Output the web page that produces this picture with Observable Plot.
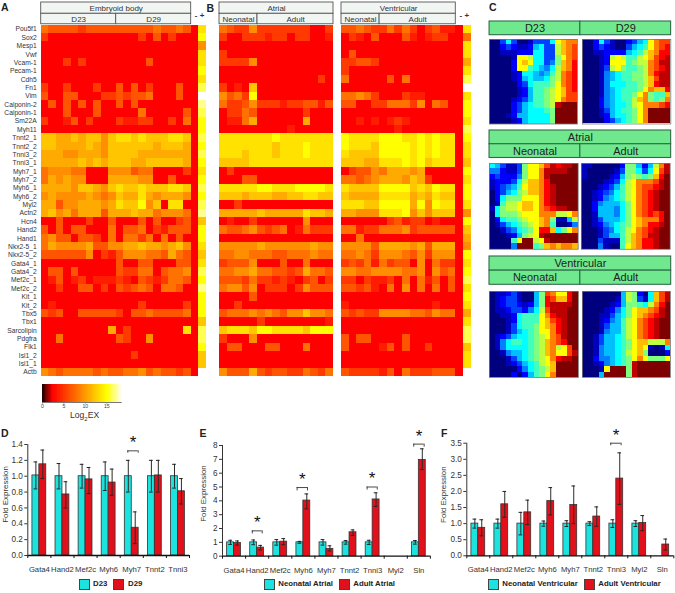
<!DOCTYPE html>
<html><head><meta charset="utf-8">
<script src="https://cdn.jsdelivr.net/npm/d3@7"></script>
<script src="https://cdn.jsdelivr.net/npm/@observablehq/plot@0.6"></script>
<style>
html,body{margin:0;padding:0;background:#fff}
#root{position:relative;width:675px;height:593px;overflow:hidden;font-family:"Liberation Sans",Arial,sans-serif}
#root svg{position:absolute;overflow:visible;background:none;max-width:none}
.t{position:absolute;white-space:nowrap;line-height:1}
.sw{position:absolute;box-sizing:border-box;border:1px solid #444}
</style></head><body><div id="root"></div>
<script>
const rowLabels=["Pou5f1","Sox2","Mesp1","Vwf","Vcam-1","Pecam-1","Cdh5","Fn1","Vim","Calponin-2","Calponin-1","Sm22A","Myh11","Tnnt2_1","Tnnt2_2","Tnni3_2","Tnni3_1","Myh7_1","Myh7_2","Myh6_1","Myh6_2","Myl2","Actn2","Hcn4","Hand2","Hand1","Nkx2-5_1","Nkx2-5_2","Gata4_1","Gata4_2","Mef2c_1","Mef2c_2","Kit_1","Kit_2","Tbx5","Tbx1","Sarcolipin","Pdgfra","Flk1","Isl1_2","Isl1_1","Actb"];
// heat levels, one hex digit per sample (20 samples, then "-" and "+")
const embryoidBody=[
"4333323333333334334308","2000000000000203020009","0000000000000000000005","0000000000000000000008",
"0002020000000030000008","0000000000000000000009","0000000000000000000008","200200020030302000300a",
"300330002232334000300c","030303030030300000000b","000300030000040000030a","2001302000211220020409",
"0000000000000000000009","776676775788787778870a","7766667657777776777609","666556665777766666660a",
"6666676767776677777609","4555440005553440000208","4656550006666550030009","666657765787787778870a",
"5655556545766865666509","663556665687795708800a","675646663666766455540b","0030002003000303002307",
"3030330004033402133309","4533033204044240403009","4655556335566766567508","3333335021355544364307",
"0000000000300330003308","033030000032244034450a","0130120111210321244309","002003302032343044300b",
"0000000000000000000009","0100000000000200000209","3230033333203343333409","0000000000000000000007",
"000000000602000000080a","004000000032005000000a","0000000000000000000009","0000000000002000000007",
"0000000000000000000007","543444434334453433230c"];
const atrial=[
"432252222222002","200222122022001","000000000000000","200000000000000","222250000000000","000000000000000",
"000000000000020","201070000000000","534290000000000","422352221223313","022430000002000","011460000006000",
"000000000100000","888888898888888","888888878889888","888788878889888","777788888888888","020000000000000",
"000330000000000","888889988899998","777677766778877","002000000000000","666667666668776","010020000005000",
"433453234014222","000000000000000","555556555555655","445544433444544","233350003004000","445564433236443",
"333242212102302","455350222025333","000030000000000","002000000000000","344454543557554","000002000000001",
"788879988887999","200050000000000","033000330004000","000000000000000","000000000000000","533363233224324"];
const ventricular=[
"33432242420231108","02103000310122004","00000000000000008","03000000000000008","22332000000000006","20000000000000008",
"4000003040000000a","0000000000000000c","44542000211000008","33002244425043009","00000000000000009","00101012100000008",
"0000000100000000a","98888999889898809","98887999989898808","87777999989898808","77766888989788807","02335466656000009",
"44345666576200008","87777999978798809","76666888867687709","88877999969598808","66555888957577705","00000023122010009",
"44122444523333307","00400000000000006","55553666656366605","44542555435255509","23241423305042208","55445555445053409",
"2202112040413030a","33231040504040308","00000000000000009","10000000000010008","32322555544354406","00000000000000008",
"0000000000000000a","3033000030000000a","30000130300200007","00000000000000008","00000000000000008","3222213042223330c"];
const somD23=["003630013336abcc","0023211256339bcd","0011122266339bcd","00001aa966338acd","00002aba66348bce","00002aa765469bce","0000126654579cde","0000125655689cde","000002367778acde","000001257789abde","000001257789abdd","000012357789acdd","000023567789fggg","000023566678gggg","000125566668gggg","000012566668gggg"];
const somD29=["002631002356acdd","002321003567acde","001122225679bcee","000129a9779abdef","00012aaa7899cdff","000139a87789cdef","000145677889ceff","000145677889bdff","000146667789beff","00014567778acbbe","0001456778ac877b","0002456779bc878c","0002456679acccde","0001356778acgggg","0001256678acgggg","0000235678acgggg"];
const somAtrialNeonatal=["6531138aabdfeffg","4421138aacffffgg","2322248aacfggggg","1222369bbceggggg","123457abbcefgggg","0235689bbcefgggg","026888aaacefgggg","01799abbacefgggg","16899abbacdeffgg","068889aaaccc99ac","0267789aabc81159","01356789abc70014","00134678aeeb68ac","00012589afgggggg","00007agg9afggggg","00004ggg78bcbccb"];
const somAtrialAdult=["11000002885259cf","1000001388636adf","1000012589878beg","000012369acccdfg","000123579acddefg","001234679acdefgg","001245679acdefgg","002455568acdefgg","002555468acdefgg","001555468acdedeg","001355568abccceg","001245678abceefg","000134679acdefgg","000135579bcdffgg","000311179bceefgg","00041007abceefgg"];
const somVentNeonatal=["0112310058dcaaeg","0123310058edbbeg","0123321258effffg","0112332469dfffgg","001126777aceffgg","000126777abdefgg","000136778abcefgg","000135678aacefgg","0123566789acdfgg","0146776789bcdegg","0146666789bc9adg","0014556789bcaadf","0001356789aceffg","0001235679abgggg","00000246789bgggg","0000202578acgggg"];
const somVentAdult=["0000000598206bdf","0000001598316bdf","0000012588769ceg","000012468abbcdfg","000113568abcdefg","000124579acdefgg","000135579acdefgg","000145579acdefgg","001355679acdefgg","001355678abb999c","001455678aba1016","001455679ab80002","002445678aca888a","001245678fgggggg","0001aggg8fgggggg","0005gggg8fgggggg"];

const genesD=["Gata4","Hand2","Mef2c","Myh6","Myh7","Tnnt2","Tnni3"];
const d23=[1.01,1,1,1,1,1,1], d23Lo=[.84,.84,.85,.82,.8,.8,.85], d23Hi=[1.18,1.16,1.15,1.18,1.2,1.2,1.15];
const d29=[1.15,.77,.96,.92,.35,1.01,.81], d29Lo=[.97,.6,.78,.76,.15,.8,.65], d29Hi=[1.33,.93,1.11,1.09,.55,1.2,.97];
const genesE=["Gata4","Hand2","Mef2c","Myh6","Myh7","Tnnt2","Tnni3","Myl2","Sln"];
const neoA=[1,1,1,1,1,1,1,null,1], neoALo=[.85,.83,.8,.93,.8,.87,.85,null,.87], neoAHi=[1.15,1.17,1.2,1.07,1.2,1.13,1.15,null,1.13];
const adA=[.95,.62,1.05,4.02,.53,1.73,4.1,null,6.96], adALo=[.8,.45,.83,3.42,.38,1.5,3.6,null,6.26], adAHi=[1.1,.78,1.27,4.5,.75,1.9,4.58,null,7.76];
const genesF=["Gata4","Hand2","Mef2c","Myh6","Myh7","Tnnt2","Tnni3","Myl2","Sln"];
const neoV=[1,1,1,1,1,1,1,1,null], neoVLo=[.86,.86,.65,.92,.91,.94,.88,.91,null], neoVHi=[1.14,1.14,1.35,1.08,1.09,1.06,1.12,1.09,null];
const adV=[.87,1.6,1.35,1.7,1.58,1.22,2.4,1.02,.35], adVLo=[.62,1.2,.97,1.27,1,.92,1.6,.78,.18], adVHi=[1.12,2,1.73,2.12,2.17,1.52,3.2,1.25,.52];
const sigD=[{g:4,lo:1.29,hi:1.32,span:[.33,.78]}];
const sigE=[{g:1,lo:1.61,hi:1.83,span:[.29,.72]},{g:3,lo:4.72,hi:4.96,span:[.23,.68]},{g:6,lo:4.78,hi:5,span:[.26,.7]},{g:8,lo:7.88,hi:8.1,span:[.28,.73]}];
const sigF=[{g:6,lo:3.42,hi:3.5,span:[.26,.71]}];

const root=document.getElementById("root");
const FONT='"Liberation Sans",Arial,sans-serif';
function place(p,left,top){p.style.left=left+"px";p.style.top=top+"px";p.style.fontFamily=FONT;root.append(p);return p}
function label(html,left,top,css){const e=document.createElement("div");e.className="t";e.innerHTML=html;e.style.cssText=`left:${left}px;top:${top}px;${css}`;root.append(e);return e}
function swatch(left,top,c){const e=document.createElement("div");e.className="sw";e.style.cssText=`left:${left}px;top:${top}px;width:10.5px;height:10.5px;background:${c}`;root.append(e)}

const heatColor={type:"linear",domain:[0,2.3,15,18.6],range:["#200000","#ff0000","#ffff00","#ffffff"],interpolate:"rgb"};
const lev=c=>{const n=parseInt(c,16);return n<=9?2.3+1.41*n:[16.1,17,18.6][n-10]};
const toCells=rows=>rows.flatMap((s,row)=>Array.from(s,(c,col)=>({col,row,v:lev(c)})));
const headerFill="#f1f6f3";
function heatmap(rows,n,opt){
  const spans=opt.spans;
  return Plot.plot({
    width:opt.left+n*opt.cw+1,height:377,marginLeft:opt.left,marginRight:1,marginTop:2,marginBottom:1,
    style:{background:"none",fontFamily:FONT},
    x:{domain:[0,n],axis:null},y:{domain:[-2.7,42],reverse:true,axis:null},color:heatColor,
    marks:[
      Plot.rect(toCells(rows),{x1:"col",x2:d=>d.col+1,y1:"row",y2:d=>d.row+1,fill:"v",shapeRendering:"crispEdges",imageFilter:"blur(0.45px)"}),
      Plot.rect(spans,{x1:"x1",x2:"x2",y1:"y1",y2:"y2",fill:headerFill,stroke:"#555",strokeWidth:.9}),
      Plot.text(spans,{x:d=>(d.x1+d.x2)/2,y:d=>(d.y1+d.y2)/2,text:"t",fontSize:8,fill:"#333"}),
      ...(opt.labels?[Plot.text(rowLabels,{x:0,y:(d,i)=>i+.5,text:d=>d,textAnchor:"end",dx:-4.5,fontSize:6.7,fill:"#333"})]:[]),
      ...(opt.signs?[Plot.text(["-","+"],{x:(d,i)=>n-1.35+i*.8,y:-1.2,text:d=>d,fontSize:8,fontWeight:"bold",fill:"#333"})]:[])
    ]});
}
place(heatmap(embryoidBody,22,{left:40.7,cw:7.5,labels:true,signs:true,spans:[
 {t:"Embryoid body",x1:0,x2:20,y1:-2.7,y2:-1.35},{t:"D23",x1:0,x2:10,y1:-1.35,y2:-.1},{t:"D29",x1:10,x2:20,y1:-1.35,y2:-.1}]}),0,0);
place(heatmap(atrial,15,{left:4,cw:7.6,spans:[
 {t:"Atrial",x1:0,x2:15,y1:-2.7,y2:-1.35},{t:"Neonatal",x1:0,x2:5,y1:-1.35,y2:-.1},{t:"Adult",x1:5,x2:15,y1:-1.35,y2:-.1}]}),215.3,0);
place(heatmap(ventricular,17,{left:4,cw:7.62,signs:true,spans:[
 {t:"Ventricular",x1:0,x2:15,y1:-2.7,y2:-1.35},{t:"Neonatal",x1:0,x2:5,y1:-1.35,y2:-.1},{t:"Adult",x1:5,x2:15,y1:-1.35,y2:-.1}]}),336.7,0);

// colour bar
const barStops=d3.range(0,18.6,.2);
place(Plot.plot({width:90,height:26,marginLeft:5,marginRight:5.3,marginTop:0,marginBottom:8,style:{background:"none",fontFamily:FONT},
  x:{domain:[0,18.6],axis:null},y:{domain:[0,1],axis:null},color:heatColor,
  marks:[Plot.rect(barStops,{x1:d=>d,x2:d=>d+.2,y1:0,y2:1,fill:d=>d,shapeRendering:"crispEdges"}),
    Plot.ruleY([0],{stroke:"#777",strokeWidth:1}),
    Plot.axisX({anchor:"bottom",ticks:[0,5,10,15],tickSize:1.5,tickPadding:0.5,fontSize:5.2,stroke:"#777",fill:"#444"})]}),37,384);
label("Log<sub style='font-size:6px;line-height:0'>2</sub>EX",70,411,"font-size:8.6px;color:#333");

// SOM maps
const jet={type:"linear",domain:[0,1,2,3,4,5,6,7,8],range:["#00007f","#0000ff","#007fff","#00ffff","#7fff7f","#ffff00","#ff7f00","#ff0000","#7f0000"],interpolate:"rgb"};
function som(rows,left,top,w,h){
  const cells=rows.flatMap((s,r)=>Array.from(s,(c,k)=>({k,r,v:parseInt(c,17)/2})));
  place(Plot.plot({width:w,height:h,margin:0,style:{background:"none"},x:{domain:[0,16],axis:null},y:{domain:[0,16],reverse:true,axis:null},color:jet,
    marks:[Plot.rect(cells,{x1:"k",x2:d=>d.k+1,y1:"r",y2:d=>d.r+1,fill:"v",shapeRendering:"crispEdges",imageFilter:"blur(0.7px)"}),Plot.frame({stroke:"#777",strokeWidth:.8})]}),left,top);
}
som(somD23,489,38.5,88,84.5); som(somD29,581.7,38.5,88.3,84.5);
som(somAtrialNeonatal,489,162.5,88.7,85.8); som(somAtrialAdult,581.3,162.5,88.7,85.8);
som(somVentNeonatal,489,290.7,89,86); som(somVentAdult,582.3,290.7,88,86);
function greenHead(top,h,rowsN,spans){
  place(Plot.plot({width:181.7,height:h,margin:0,style:{background:"none",fontFamily:FONT},x:{domain:[0,2],axis:null},y:{domain:[0,rowsN],reverse:true,axis:null},
   marks:[Plot.rect(spans,{x1:"x1",x2:"x2",y1:"y1",y2:"y2",fill:"#70e88e",stroke:"#2f6b4a",strokeWidth:1.1}),
          Plot.text(spans,{x:d=>(d.x1+d.x2)/2,y:d=>(d.y1+d.y2)/2,text:"t",fontSize:11,fill:"#222"})]}),489,top);
}
greenHead(21,13.7,1,[{t:"D23",x1:0,x2:1,y1:0,y2:1},{t:"D29",x1:1,x2:2,y1:0,y2:1}]);
greenHead(130,27.5,2,[{t:"Atrial",x1:0,x2:2,y1:0,y2:1},{t:"Neonatal",x1:0,x2:1,y1:1,y2:2},{t:"Adult",x1:1,x2:2,y1:1,y2:2}]);
greenHead(256,28.3,2,[{t:"Ventricular",x1:0,x2:2,y1:0,y2:1},{t:"Neonatal",x1:0,x2:1,y1:1,y2:2},{t:"Adult",x1:1,x2:2,y1:1,y2:2}]);

// fold-expression bars
const CY="#1de3df",RD="#e2101a";
function fold({genes,a,aLo,aHi,b,bLo,bHi,sig,yMax,ticks,fmt,ml,gw,left,y0,yTop,labelY,labelDx}){
  const n=genes.length,top=430;
  const rowsOf=(v,lo,hi,off,c)=>v.map((d,i)=>({i,d,lo:lo[i],hi:hi[i],off,c})).filter(r=>r.d!=null);
  const data=[...rowsOf(a,aLo,aHi,0,CY),...rowsOf(b,bLo,bHi,1,RD)];
  const cx=d=>d.i+.2+.3*d.off+.15;
  return place(Plot.plot({width:ml+n*gw+4,height:575-top,marginLeft:ml,marginRight:4,marginTop:yTop-top,marginBottom:575-y0,
    style:{background:"none",fontFamily:FONT},
    x:{domain:[0,n],axis:null},y:{domain:[0,yMax],axis:null},
    marks:[
      Plot.rectY(data,{x1:d=>d.i+.2+.3*d.off,x2:d=>d.i+.5+.3*d.off,y1:0,y2:"d",fill:"c",stroke:"#333",strokeWidth:.8}),
      Plot.ruleX(data,{x:cx,y1:"lo",y2:"hi",stroke:"#2a2a2a",strokeWidth:1}),
      Plot.ruleY(data,{y:"hi",x1:d=>cx(d)-.08,x2:d=>cx(d)+.08,stroke:"#222",strokeWidth:1}),
      Plot.ruleY(data,{y:"lo",x1:d=>cx(d)-.08,x2:d=>cx(d)+.08,stroke:"#222",strokeWidth:1}),
      Plot.ruleY([0],{stroke:"#111",strokeWidth:1.3}),
      Plot.ruleX([0],{stroke:"#333",strokeWidth:1}),
      Plot.axisX({ticks:d3.range(0,n+1),tickFormat:()=>"",tickSize:3,stroke:"#111"}),
      Plot.axisY({ticks,tickFormat:fmt,tickSize:3,tickPadding:2,fontSize:8.2,fill:"#333",stroke:"#333",label:null}),
      Plot.text(["Fold Expression"],{x:0,y:labelY,dx:labelDx,rotate:-90,text:d=>d,fontSize:7.9,fill:"#333"}),
      Plot.text(genes,{x:(d,i)=>i+.5,y:0,dy:14,text:d=>d,fontSize:7.7,fill:"#333"}),
      Plot.ruleY(sig,{y:"hi",x1:d=>d.g+d.span[0],x2:d=>d.g+d.span[1],stroke:"#333",strokeWidth:.9}),
      Plot.ruleX(sig,{x:d=>d.g+d.span[0],y1:"lo",y2:"hi",stroke:"#333",strokeWidth:.9}),
      Plot.ruleX(sig,{x:d=>d.g+d.span[1],y1:"lo",y2:"hi",stroke:"#333",strokeWidth:.9}),
      Plot.text(sig,{x:d=>d.g+(d.span[0]+d.span[1])/2,y:"hi",text:()=>"*",dy:-8,fontSize:17,fill:"#111"})
    ]}),left,top);
}
fold({genes:genesD,a:d23,aLo:d23Lo,aHi:d23Hi,b:d29,bLo:d29Lo,bHi:d29Hi,sig:sigD,yMax:1.4,ticks:d3.range(0,1.41,.2),fmt:d3.format(".1f"),ml:27.3,gw:23.1,left:0,y0:555,yTop:444,labelY:.77,labelDx:-22.8});
fold({genes:genesE,a:neoA,aLo:neoALo,aHi:neoAHi,b:adA,bLo:adALo,bHi:adAHi,sig:sigE,yMax:8,ticks:d3.range(0,9),fmt:d3.format("d"),ml:27,gw:23.1,left:195,y0:555.7,yTop:445,labelY:4.53,labelDx:-18.7});
fold({genes:genesF,a:neoV,aLo:neoVLo,aHi:neoVHi,b:adV,bLo:adVLo,bHi:adVHi,sig:sigF,yMax:3.5,ticks:d3.range(0,3.6,.5),fmt:d3.format(".1f"),ml:27.3,gw:23,left:439,y0:555.3,yTop:442.7,labelY:1.9,labelDx:-23.6});

// legends
const lg="font-size:7.8px;font-weight:bold;color:#222";
swatch(79,579,CY);label("D23",93,580.2,lg);swatch(113.3,579,RD);label("D29",128,580.2,lg);
swatch(264.3,579.3,CY);label("Neonatal Atrial",278.3,580.2,lg);swatch(339.3,579.3,RD);label("Adult Atrial",353.3,580.2,lg);
swatch(488.3,579,CY);label("Neonatal Ventricular",502.3,580.2,lg);swatch(584.3,579,RD);label("Adult Ventricular",598.3,580.2,lg);

// panel letters
const pl="font-size:10.5px;font-weight:bold;color:#222";
[["A",1,2],["B",206.5,3],["C",489,2],["D",1,428],["E",199.5,428],["F",441,428]].forEach(([t,x,y])=>label(t,x,y,pl));
</script></body></html>
